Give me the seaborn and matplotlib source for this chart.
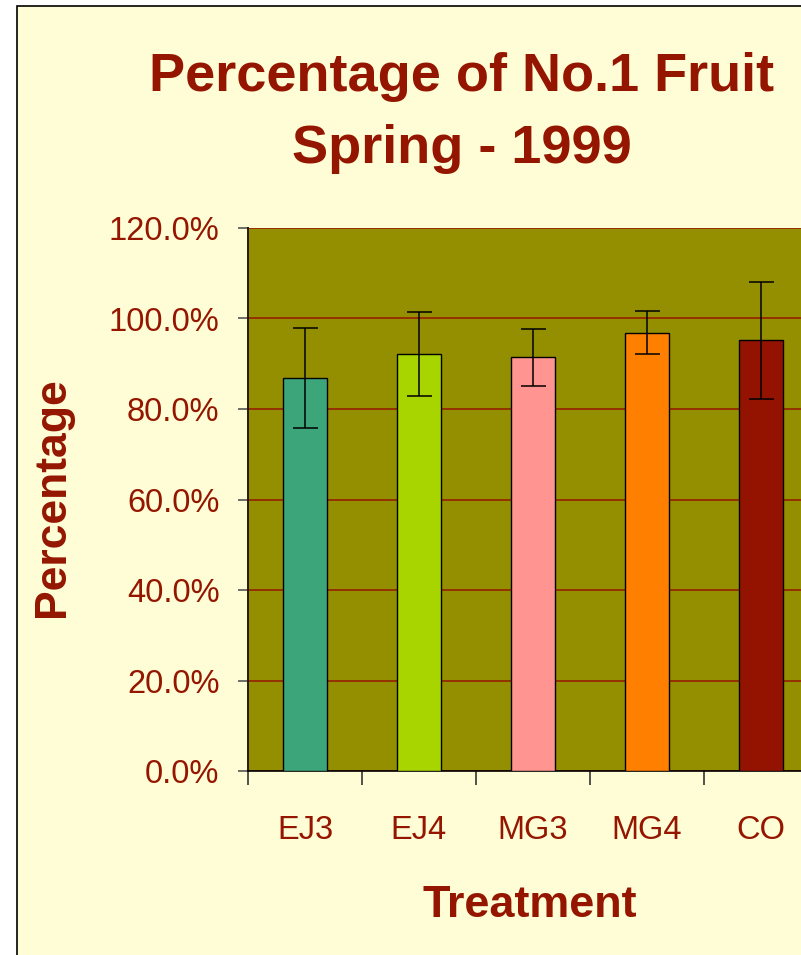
import matplotlib
matplotlib.use("Agg")
import matplotlib.pyplot as plt
import matplotlib.font_manager as fm
from matplotlib.patches import Rectangle
from matplotlib.ticker import FuncFormatter, FixedLocator
import seaborn as sns
import pandas as pd

# ---- data ----
treatments = ["EJ3", "EJ4", "MG3", "MG4", "CO"]
percent = [86.8, 92.2, 91.4, 96.9, 95.2]
errors = [11.0, 9.3, 6.3, 4.7, 12.9]
bar_colors = ["#3CA67A", "#A8D400", "#FF9490", "#FF7F00", "#931300"]
y_ticks = [0, 20, 40, 60, 80, 100, 120]

title_line1 = "Percentage of No.1 Fruit"
title_line2 = "Spring - 1999"
x_title = "Treatment"
y_title = "Percentage"

# ---- style ----
sns.set_theme(style="white")
TEXT = "#941600"
BG = "#FFFDD6"
PLOT_BG = "#948F00"
GRID = "#962A00"

names = {f.name for f in fm.fontManager.ttflist}
narrow = "Liberation Sans Narrow" in names
tick_family = ["Liberation Sans Narrow", "Liberation Sans"] if narrow else ["Liberation Sans"]
tick_size = 27.4 if narrow else 23.5
plt.rcParams["font.family"] = ["Liberation Sans", "DejaVu Sans"]

W, H = 801, 955
fig = plt.figure(figsize=(W / 100, H / 100), dpi=100, facecolor="white")

# chart area border (clipped at right and bottom)
fig.patches.append(Rectangle((17 / W, -0.1), 1.2, 1.1 - 6 / H,
                             transform=fig.transFigure, facecolor=BG,
                             edgecolor="black", linewidth=1.2, zorder=-10))

ax = fig.add_axes([248 / W, 1 - 771 / H, 570 / W, 543 / H])
ax.set_facecolor(PLOT_BG)

df = pd.DataFrame({"Treatment": treatments, "Percent": percent})
sns.barplot(data=df, x="Treatment", y="Percent", hue="Treatment",
            palette=bar_colors, saturation=1, width=0.386, edgecolor="black",
            linewidth=1.0, legend=False, ax=ax, zorder=3)
ax.errorbar(range(len(treatments)), percent, yerr=errors, fmt="none",
            ecolor="black", elinewidth=1.1, capsize=9, capthick=1.1, zorder=4)

ax.set_ylim(0, 120)
ax.set_xlim(-0.5, 4.5)
ax.yaxis.set_major_locator(FixedLocator(y_ticks))
ax.yaxis.set_major_formatter(FuncFormatter(lambda v, p: f"{v:.1f}%"))
ax.grid(axis="y", color=GRID, linewidth=1.3, zorder=1)
ax.grid(axis="x", visible=False)
ax.set_axisbelow(True)

for s in ["top", "right"]:
    ax.spines[s].set_visible(False)
ax.spines["left"].set_color("#2A1A00")
ax.spines["left"].set_linewidth(1.4)
ax.spines["bottom"].set_color("black")
ax.spines["bottom"].set_linewidth(1.2)

ax.tick_params(axis="y", which="major", direction="out", length=7.5, width=1.2,
               color="#555555", pad=13, labelcolor=TEXT, left=True)
for lab in ax.get_yticklabels():
    lab.set_family(tick_family)
    lab.set_fontsize(tick_size)

ax.set_xticks(range(len(treatments)))
ax.set_xticklabels(treatments)
ax.set_xticks([i - 0.5 for i in range(len(treatments) + 1)], minor=True)
ax.tick_params(axis="x", which="major", length=0, pad=32, labelcolor=TEXT, bottom=True)
ax.tick_params(axis="x", which="minor", direction="out", length=10, width=1.2,
               color="#333333", bottom=True)
for lab in ax.get_xticklabels():
    lab.set_family(tick_family)
    lab.set_fontsize(tick_size)

ax.set_xlabel(x_title, fontsize=32.4, fontweight="bold", color=TEXT, va="center")
ax.xaxis.set_label_coords((530 - 248) / 570, (771 - 905) / 543)
ax.set_ylabel(y_title, fontsize=32, fontweight="bold", color=TEXT, va="center")
ax.yaxis.set_label_coords((52 - 248) / 570, (771 - 497) / 543)

fig.text(462 / W, 1 - 91 / H, title_line1, ha="center", va="baseline",
         fontsize=39, fontweight="bold", color=TEXT)
fig.text(462 / W, 1 - 163 / H, title_line2, ha="center", va="baseline",
         fontsize=39, fontweight="bold", color=TEXT)

fig.savefig("out.png", dpi=100, facecolor="white")
